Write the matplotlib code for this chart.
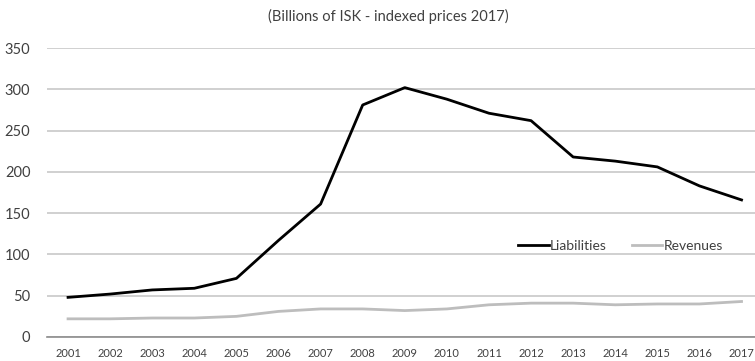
import matplotlib.pyplot as plt

years = list(range(2001, 2018))
liabilities = [48, 52, 57, 59, 71, 117, 161, 281, 302, 288, 271, 262, 218, 213, 206, 183, 166]
revenues = [22, 22, 23, 23, 25, 31, 34, 34, 32, 34, 39, 41, 41, 39, 40, 40, 43]

plt.rcParams['font.family'] = ['Lato', 'DejaVu Sans']

fig = plt.figure(figsize=(7.55, 3.61), dpi=100)
ax = fig.add_axes([47 / 755, 24 / 361, 1 - 47 / 755, 289 / 361])

ax.plot(years, liabilities, color='black', lw=2.0, label='Liabilities', zorder=3)
ax.plot(years, revenues, color='#bdbdbd', lw=2.0, label='Revenues', zorder=3)

ax.set_xlim(2000.5, 2017.32)
ax.set_ylim(0, 350)
ax.set_yticks(range(0, 351, 50))
ax.set_xticks(years)
ax.tick_params(length=0, colors='#404040')
ax.tick_params(axis='x', pad=8, labelsize=8)
ax.tick_params(axis='y', pad=12, labelsize=10.5)
ax.grid(axis='y', color='#c8c8c8', lw=1.2)
ax.set_axisbelow(True)
for s in ['top', 'right', 'left']:
    ax.spines[s].set_visible(False)
ax.spines['bottom'].set_color('#8c8c8c')
ax.spines['bottom'].set_linewidth(1.2)

fig.text(0.514, 0.953, '(Billions of ISK - indexed prices 2017)', ha='center', va='center',
         fontsize=10.5, color='#404040')

ax.legend(loc='center left', bbox_to_anchor=(518 / 755, 1 - 246 / 361),
          bbox_transform=fig.transFigure, ncol=2, frameon=False, fontsize=10,
          handlelength=2.2, handletextpad=0.1, columnspacing=1.8, labelcolor='#404040',
          borderpad=0, borderaxespad=0)

fig.savefig('out.png', dpi=100)
